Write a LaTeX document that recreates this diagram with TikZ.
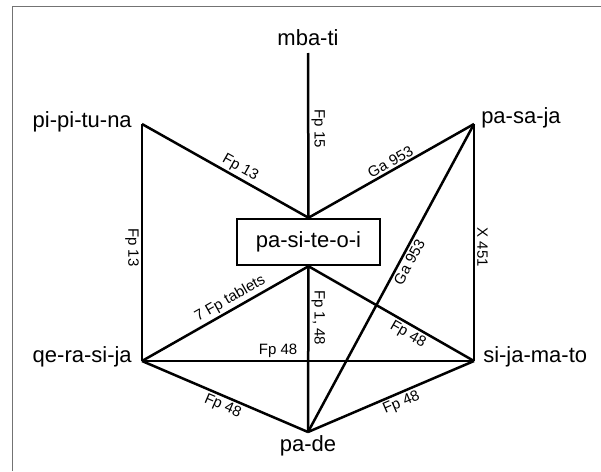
\documentclass[tikz,border=0pt]{standalone}
\usepackage{fontspec}
\setmainfont{Liberation Sans}
\usetikzlibrary{positioning, calc}

\begin{document}
\begin{tikzpicture}[x=1pt, y=-1pt, line width=2.5pt,
    place/.style={font=\fontsize{22}{26}\selectfont, inner sep=0pt},
    tab/.style={font=\fontsize{15}{18}\selectfont, inner sep=2pt},
    hub/.style={draw, line width=2.5pt, minimum width=143pt, minimum height=46pt, inner sep=0pt, font=\fontsize{22}{26}\selectfont}]
      \useasboundingbox (0,0) rectangle (601,471);

      % Open frame (top and left edges only)
      \draw[black!55, line width=1.5pt] (12.5,471) -- (12.5,6.5) -- (601,6.5);

      % Sites (corner points)
      \coordinate (mbati) at (308,53);
      \coordinate (pipituna) at (142,124);
      \coordinate (pasaja) at (474,124);
      \coordinate (qerasija) at (142,361);
      \coordinate (sijamato) at (474,361);
      \coordinate (pade) at (308,432);

      % Central site
      \node[hub] (pasiteoi) at (308.5,242) {pa-si-te-o-i};

      % Site names
      \node[place, anchor=base] (mbatitext) at (308,45) {mba-ti};
      \node[place, anchor=base east] (pipitunatext) at (133,127) {pi-pi-tu-na};
      \node[place, anchor=base west] (pasajatext) at (480,123) {pa-sa-ja};
      \node[place, anchor=base east] (qerasijatext) at (133,362) {qe-ra-si-ja};
      \node[place, anchor=base west] (sijamatotext) at (482,362) {si-ja-ma-to};
      \node[place, anchor=base] (padetext) at (308,451) {pa-de};

      % Links into the central site
      \draw (mbati) -- node[tab, rotate=-90, anchor=south, pos=0.46] (fp15) {Fp 15} (pasiteoi.north);
      \draw (pipituna) -- node[tab, sloped, above, pos=0.56] (fp13a) {Fp 13} (pasiteoi.north);
      \draw (pasiteoi.north) -- node[tab, sloped, above, pos=0.52] (ga953a) {Ga 953} (pasaja);
      \draw (qerasija) -- node[tab, sloped, above, pos=0.56] (fp7) {7 Fp tablets} (pasiteoi.south);
      \draw (pasiteoi.south) -- node[tab, sloped, below, pos=0.63] (fp48a) {Fp 48} (sijamato);
      \draw (pasiteoi.south) -- node[tab, rotate=-90, anchor=south, pos=0.31] (fp148) {Fp 1, 48} (pade);

      % Outer links
      \draw (pipituna) -- node[tab, rotate=-90, anchor=north, pos=0.52] (fp13b) {Fp 13} (qerasija);
      \draw (pasaja) -- node[tab, rotate=-90, anchor=south, pos=0.52] (x451) {X 451} (sijamato);
      \draw (qerasija) -- node[tab, above, pos=0.41] (fp48b) {Fp 48} (sijamato);
      \draw (qerasija) -- node[tab, sloped, below, pos=0.51] (fp48c) {Fp 48} (pade);
      \draw (pade) -- node[tab, sloped, below, pos=0.54] (fp48d) {Fp 48} (sijamato);
      \draw (pade) -- node[tab, sloped, below, pos=0.565] (ga953b) {Ga 953} (pasaja);

    \end{tikzpicture}
\end{document}
